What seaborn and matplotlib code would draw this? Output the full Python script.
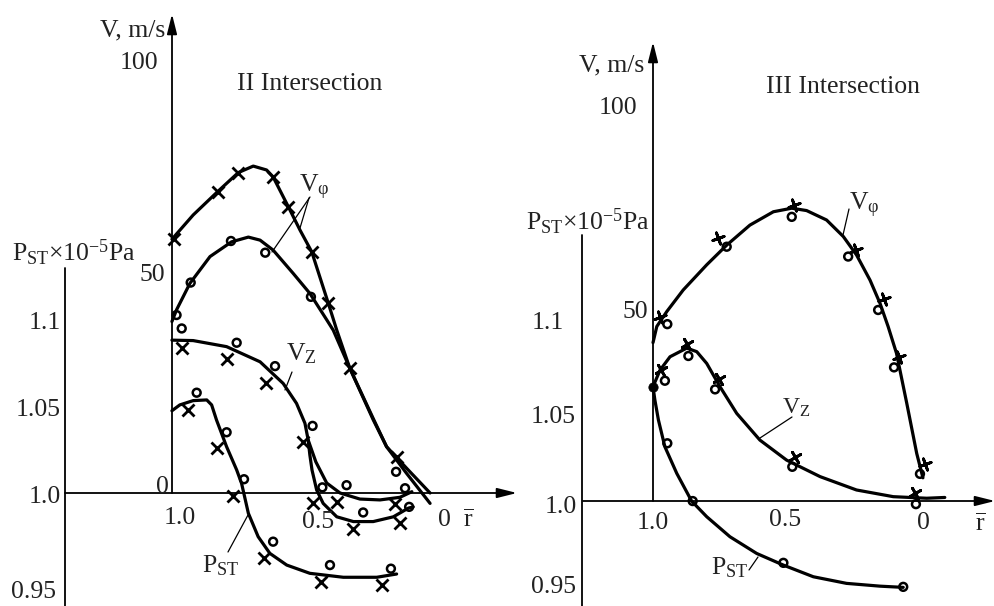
import matplotlib
matplotlib.use("Agg")
import matplotlib.pyplot as plt
import seaborn as sns
from matplotlib.transforms import Affine2D
from matplotlib.lines import Line2D
from matplotlib.patches import FancyArrowPatch

# ---- data (r = relative radius, V in m/s, P_ST x 1e-5 Pa) ----

# II Intersection
r2_vphi_x = [1.0, 0.922, 0.832, 0.756, 0.701, 0.652, 0.628, 0.572, 0.529, 0.486, 0.425, 0.394, 0.346, 0.260, 0.211, 0.131, 0.051]
v2_vphi_x = [58.6, 64.2, 69.6, 74.0, 75.5, 74.6, 73.0, 66.1, 60.7, 55.7, 43.8, 37.6, 28.8, 17.2, 10.7, 5.3, 0.0]
r2_vphi_o = [1.0, 0.983, 0.934, 0.860, 0.781, 0.719, 0.676, 0.628, 0.554, 0.493, 0.431, 0.407, 0.346, 0.260, 0.211, 0.137, 0.051]
v2_vphi_o = [39.6, 42.3, 48.4, 54.6, 58.0, 59.1, 58.4, 56.1, 50.7, 46.1, 40.0, 37.6, 28.8, 16.9, 10.7, 4.5, -2.4]
r2_vz = [1.0, 0.922, 0.799, 0.676, 0.591, 0.542, 0.511, 0.499, 0.471, 0.431, 0.382, 0.309, 0.235, 0.162, 0.118]
v2_vz = [35.3, 35.2, 33.8, 30.3, 25.3, 20.7, 16.1, 12.2, 7.2, 2.3, 0.0, -1.4, -1.6, -1.0, 0.3]
r2_vz_b = [0.499, 0.493, 0.485, 0.468, 0.444, 0.394, 0.333, 0.260, 0.186, 0.131, 0.113]
v2_vz_b = [12.2, 8.8, 5.3, 0.7, -2.4, -5.5, -6.6, -6.6, -5.5, -3.5, -3.2]
r2_p = [1.0, 0.971, 0.922, 0.872, 0.854, 0.836, 0.799, 0.762, 0.744, 0.719, 0.683, 0.640, 0.578, 0.493, 0.370, 0.247, 0.174]
p2 = [1.0478, 1.0512, 1.0537, 1.0541, 1.0512, 1.0424, 1.0269, 1.0134, 1.0056, 0.9882, 0.9746, 0.9649, 0.9581, 0.9533, 0.9510, 0.9510, 0.9529]

# measured points II
r2_vphi_px = [0.993, 0.832, 0.756, 0.628, 0.572, 0.486, 0.425, 0.346, 0.174]
v2_vphi_px = [58.6, 69.6, 74.0, 73.0, 66.1, 55.7, 43.8, 28.8, 8.4]
r2_vphi_po = [0.983, 0.931, 0.783, 0.657, 0.489, 0.176]
v2_vphi_po = [41.1, 48.6, 58.2, 55.5, 45.3, 4.9]
r2_vz_po = [0.964, 0.762, 0.621, 0.483, 0.447, 0.358, 0.143, 0.297, 0.128]
v2_vz_po = [38.0, 34.7, 29.3, 15.5, 1.3, 1.8, 1.1, -4.5, -3.2]
r2_vz_px = [0.964, 0.799, 0.654, 0.517, 0.483, 0.394, 0.180, 0.333, 0.162]
v2_vz_px = [33.4, 30.9, 25.5, 11.8, -2.4, -2.0, -2.5, -8.4, -7.0]
r2_p_po = [0.909, 0.799, 0.735, 0.628, 0.419, 0.195]
p2_po = [1.0583, 1.0353, 1.0080, 0.9717, 0.9581, 0.9560]
r2_p_px = [0.940, 0.833, 0.775, 0.661, 0.452, 0.229]
p2_px = [1.0483, 1.0260, 0.9983, 0.9620, 0.9484, 0.9465]

# III Intersection
r3_vphi = [1.0, 0.986, 0.949, 0.888, 0.801, 0.727, 0.641, 0.554, 0.486, 0.431, 0.357, 0.295, 0.246, 0.196, 0.159, 0.129, 0.098, 0.060, 0.023, 0.0]
v3_vphi = [40.3, 44.4, 48.2, 53.7, 60.1, 65.1, 70.2, 73.6, 74.5, 73.9, 71.5, 67.3, 62.6, 56.2, 50.3, 44.4, 37.6, 24.9, 12.1, 5.9]
r3_vz = [1.0, 0.974, 0.937, 0.875, 0.838, 0.801, 0.752, 0.690, 0.604, 0.505, 0.381, 0.246, 0.110, -0.014, -0.081]
v3_vz = [29.1, 33.3, 36.7, 38.9, 38.0, 35.0, 29.1, 22.3, 15.5, 10.4, 6.2, 2.8, 1.1, 0.7, 0.9]
r3_p = [1.0, 0.993, 0.980, 0.956, 0.912, 0.857, 0.801, 0.715, 0.616, 0.517, 0.406, 0.283, 0.159, 0.073]
p3 = [1.0657, 1.0580, 1.0466, 1.0312, 1.0159, 1.0, 0.9910, 0.9795, 0.9699, 0.9632, 0.9565, 0.9527, 0.9511, 0.9504]

# measured points III
r3_vphi_px = [0.974, 0.758, 0.479, 0.248, 0.143, 0.088, -0.007]
v3_vphi_px = [46.9, 66.8, 75.3, 63.9, 51.3, 36.6, 9.4]
r3_vphi_po = [0.947, 0.727, 0.486, 0.277, 0.166, 0.107, 0.011]
v3_vphi_po = [45.0, 64.7, 72.3, 62.2, 48.6, 34.0, 6.9]
r3_vz_px = [0.971, 0.875, 0.754, 0.474, 0.030]
v3_vz_px = [33.3, 39.9, 31.0, 11.3, 2.1]
r3_vz_po = [0.956, 0.869, 0.770, 0.484, 0.026]
v3_vz_po = [30.6, 36.9, 28.4, 8.7, -0.8]
r3_p_po = [0.947, 0.853, 0.517, 0.073]
p3_po = [1.0332, 1.0, 0.9645, 0.9507]
r3_p_dot = [1.0]
p3_dot = [1.0657]

v_ticks = ["100", "50", "0"]
p_ticks = ["1.1", "1.05", "1.0", "0.95"]
r_ticks = ["1.0", "0.5", "0"]

# ---- figure ----
sns.set_style("white")
plt.rcParams["font.family"] = ["Liberation Serif", "DejaVu Serif"]
plt.rcParams["mathtext.fontset"] = "custom"
plt.rcParams["mathtext.rm"] = "Liberation Serif"
plt.rcParams["mathtext.it"] = "Liberation Serif:italic"

W, H = 995, 606
fig = plt.figure(figsize=(W / 100, H / 100), dpi=100)
pix = Affine2D().scale(1 / W, -1 / H).translate(0, 1) + fig.transFigure

LW = 2.3
FS = 18.5


def panel(rect, xlim, vlim, plim):
    ax = fig.add_axes(rect)
    ax.set_xlim(*xlim)
    ax.set_ylim(*vlim)
    axp = ax.twinx()
    axp.set_ylim(*plim)
    for a in (ax, axp):
        a.axis("off")
        a.patch.set_alpha(0)
    return ax, axp


def curve(ax, x, y):
    sns.lineplot(x=x, y=y, ax=ax, sort=False, estimator=None, color="black", lw=LW,
                 solid_joinstyle="round", solid_capstyle="round")


def pts_x(ax, x, y, marker="x"):
    sns.scatterplot(x=x, y=y, ax=ax, marker=marker, s=75, color="black", linewidth=2.0)


def pts_o(ax, x, y):
    sns.scatterplot(x=x, y=y, ax=ax, marker="o", s=32, facecolor="none",
                    edgecolor="black", linewidth=1.8)


def line(x0, y0, x1, y1, lw=1.3):
    fig.add_artist(Line2D([x0, x1], [y0, y1], transform=pix, color="black", lw=lw))


def arrow(x0, y0, x1, y1):
    fig.add_artist(FancyArrowPatch((x0, y0), (x1, y1), transform=pix,
                                   arrowstyle="-|>,head_width=0.25,head_length=1.0",
                                   mutation_scale=12, lw=1.3, color="black",
                                   shrinkA=0, shrinkB=0))


def txt(x, y, s, ha="left", fs=FS, va="center"):
    fig.text(x, y, s, transform=pix, ha=ha, va=va, fontsize=fs, color="#222222")


# left panel (II Intersection): r=1 at x=172 px, 272 px per unit; V=0 at y=493
axL, axLp = panel([0, 0, 497 / W, 1], (1.632, -0.195), (-26.10, 113.86), (0.9343, 1.2866))
curve(axL, r2_vphi_x, v2_vphi_x)
curve(axL, r2_vphi_o, v2_vphi_o)
curve(axL, r2_vz, v2_vz)
curve(axL, r2_vz_b, v2_vz_b)
curve(axLp, r2_p, p2)
pts_x(axL, r2_vphi_px, v2_vphi_px)
pts_o(axL, r2_vphi_po, v2_vphi_po)
pts_x(axL, r2_vz_px, v2_vz_px)
pts_o(axL, r2_vz_po, v2_vz_po)
pts_x(axLp, r2_p_px, p2_px)
pts_o(axLp, r2_p_po, p2_po)

# right panel (III Intersection): r=1 at x=653 px, 270 px per unit; V=0 at y=501
axR, axRp = panel([497 / W, 0, 498 / W, 1], (1.578, -0.267), (-26.72, 127.48), (0.9397, 1.2879))
curve(axR, r3_vphi, v3_vphi)
curve(axR, r3_vz, v3_vz)
curve(axRp, r3_p, p3)
pts_x(axR, r3_vphi_px, v3_vphi_px, marker=(4, 2, 20))
pts_o(axR, r3_vphi_po, v3_vphi_po)
pts_x(axR, r3_vz_px, v3_vz_px, marker=(4, 2, 30))
pts_o(axR, r3_vz_po, v3_vz_po)
pts_o(axRp, r3_p_po, p3_po)
sns.scatterplot(x=r3_p_dot, y=p3_dot, ax=axRp, s=45, color="black", edgecolor="black")

# axes drawn by hand, as in the original
arrow(172, 493, 172, 14)
arrow(65, 493, 517, 493)
line(65, 268, 65, 606)
arrow(653, 501, 653, 42)
arrow(583, 501, 995, 501)
line(582, 235, 582, 606)

# left labels
txt(133, 30, "V, m/s", ha="center")
for s, x, y in zip(v_ticks, [158, 165, 169], [63, 275, 487]):
    txt(x, y, s, ha="right")
txt(310, 84, "II Intersection", ha="center")
txt(12, 253, r"$\mathrm{P_{ST}{×}10^{-5}Pa}$")
for s, x, y in zip(p_ticks, [61, 61, 61, 56], [323, 410, 497, 592]):
    txt(x, y, s, ha="right")
for s, x, y in zip(r_ticks, [180, 318, 444], [518, 522, 520]):
    txt(x, y, s, ha="center")
txt(468, 520, r"$\overline{\mathrm{r}}$", ha="center")
txt(299, 187, r"$\mathrm{V_{φ}}$")
line(310, 197, 272, 252, lw=0.9)
line(309, 198, 300, 228, lw=0.9)
txt(286, 354, r"$\mathrm{V_{Z}}$")
line(292, 372, 285, 390, lw=0.9)
txt(202, 566, r"$\mathrm{P_{ST}}$")
line(228, 552, 248, 515, lw=0.9)

# right labels
txt(612, 65, "V, m/s", ha="center")
for s, x, y in zip(v_ticks[:2], [637, 648], [108, 312]):
    txt(x, y, s, ha="right")
txt(843, 87, "III Intersection", ha="center")
txt(526, 222, r"$\mathrm{P_{ST}{×}10^{-5}Pa}$")
for s, x, y in zip(p_ticks, [564, 576, 577, 576], [323, 417, 507, 587]):
    txt(x, y, s, ha="right")
for s, x, y in zip(r_ticks, [653, 785, 923], [523, 520, 523]):
    txt(x, y, s, ha="center")
txt(980, 524, r"$\overline{\mathrm{r}}$", ha="center")
txt(849, 205, r"$\mathrm{V_{φ}}$")
line(849, 209, 843, 235, lw=0.9)
txt(782, 408, r"$\mathrm{V_{Z}}$", fs=17)
line(792, 417, 760, 438, lw=0.9)
txt(711, 568, r"$\mathrm{P_{ST}}$")
line(749, 570, 758, 557, lw=0.9)

fig.savefig("out.png", dpi=100, facecolor="white")
